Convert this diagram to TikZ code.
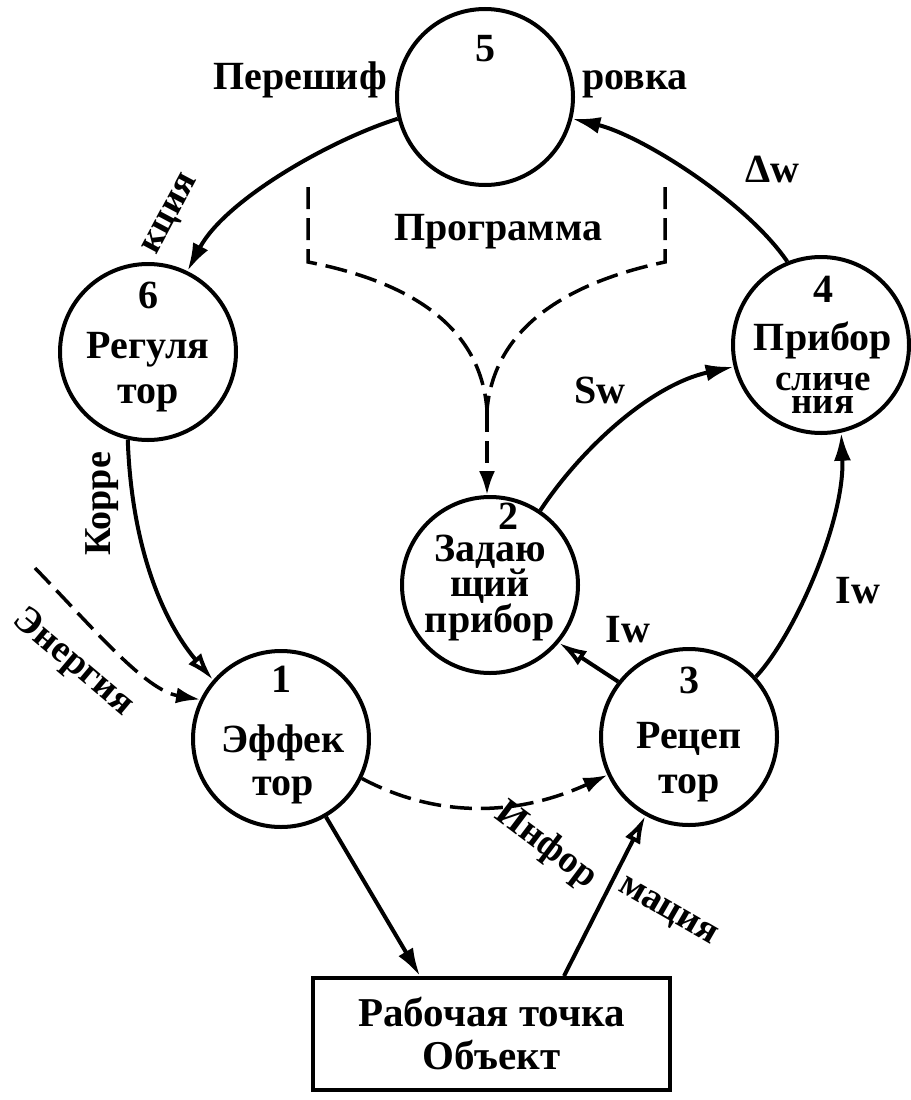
\documentclass[tikz,border=0pt]{standalone}
\usepackage{fontspec}
\setmainfont{Liberation Serif}
\usetikzlibrary{arrows.meta}
\tikzset{
 circ/.style={circle,draw,line width=4pt,minimum size=176pt,inner sep=0pt},
 txt/.style={font=\bfseries\fontsize{40}{46}\selectfont,inner sep=0pt,anchor=base},
 sm/.style={font=\bfseries\fontsize{37}{40}\selectfont,inner sep=0pt,anchor=base},
 lab/.style={font=\bfseries\fontsize{38}{44}\selectfont,inner sep=0pt},
 con/.style={line width=4pt,-{Latex[length=28pt,width=17pt]}},
 hcon/.style={line width=4pt,-{Latex[open,length=28pt,width=17pt]}},
 dcon/.style={line width=3.5pt,dash pattern=on 22pt off 9pt,-{Latex[length=24pt,width=16pt]}},
 dln/.style={line width=3.5pt,dash pattern=on 22pt off 9pt},
}
\begin{document}
\begin{tikzpicture}[x=1pt,y=-1pt]
\useasboundingbox (0,0) rectangle (910,1100);
% circles
\node[circ] (c5) at (485,97) {};
\node[circ] (c6) at (148,352) {};
\node[circ] (c4) at (821,345) {};
\node[circ] (c2) at (490,585) {};
\node[circ] (c3) at (689,737) {};
\node[circ] (c1) at (281,739) {};
% circle texts
\node[txt] (n5) at (485,61) {5};
\node[txt] (n6) at (148,308) {6};
\node[txt] (t6a) at (148,358) {Регуля};
\node[txt] (t6b) at (148,403) {тор};
\node[txt] (n4) at (823,302) {4};
\node[txt] (t4a) at (823,350) {Прибор};
\node[sm] (t4b) at (823,390) {сличе};
\node[sm] (t4c) at (823,413) {ния};
\node[txt] (n2) at (508,529) {2};
\node[txt] (t2a) at (490,561) {Задаю};
\node[txt] (t2b) at (490,596) {щий};
\node[txt] (t2c) at (490,632) {прибор};
\node[txt] (n1) at (281,692) {1};
\node[txt] (t1a) at (283,752) {Эффек};
\node[txt] (t1b) at (283,795) {тор};
\node[txt] (n3) at (689,693) {3};
\node[txt] (t3a) at (689,748) {Рецеп};
\node[txt] (t3b) at (689,793) {тор};
% box
\node[draw,line width=4pt,minimum width=357pt,minimum height=112pt,inner sep=0pt,
  align=center,font=\bfseries\fontsize{41}{43}\selectfont] (box) at (491.5,1034) {Рабочая точка\\Объект};
% edge labels
\node[txt] (lp1) at (300,89) {Перешиф};
\node[txt] (lp2) at (635,89) {ровка};
\node[txt] (lprog) at (498,240) {Программа};
\node[txt] (lsw) at (600,403) {Sw};
\node[txt] (liw1) at (628,642) {Iw};
\node[txt] (liw2) at (858,603) {Iw};
\node[txt] (ldw) at (772,182) {Δw};
\node[lab,rotate=90] (lk1) at (102,504) {Корре};
\node[lab,rotate=62] (lk2) at (172,215) {кция};
\node[lab,rotate=-40] (len) at (73,663) {Энергия};
\node[lab,rotate=-37] (li1) at (546,846) {Инфор};
\node[lab,rotate=-30] (li2) at (667,913) {мация};
% programme bracket
\coordinate (pl) at (308,187);
\coordinate (pr) at (665,187);
\coordinate (pm) at (487,410);
\draw[dln] (pl) -- (308,262) .. controls (400,280) and (480,320) .. (pm);
\draw[dln] (pr) -- (665,262) .. controls (580,280) and (495,320) .. (pm);
\draw[dcon] (pm) -- (pm |- c2.north);
% connectors
\draw[con] (c5.194) .. controls (330,140) and (225,200) .. (c6.64);
\draw[hcon] (c6.257) .. controls (132,560) and (170,630) .. (c1.139);
\coordinate (en) at (35,568);
\draw[dcon] (en) .. controls (95,630) and (145,690) .. (c1.154);
\draw[dcon] (c1.-26) .. controls (440,820) and (520,815) .. (c3.205);
\draw[con] (c1.-60) -- ([xshift=-71.5pt]box.north);
\draw[hcon] ([xshift=72.5pt]box.north) -- (c3.-119);
\draw[hcon] (c3.142) -- (c2.-40);
\draw[con] (c3.42) .. controls (795,635) and (845,520) .. (c4.-77);
\draw[con] (c2.56) .. controls (580,450) and (650,385) .. (c4.194);
\draw[con] (c4.112) .. controls (745,200) and (640,135) .. (c5.-14);
\end{tikzpicture}
\end{document}
